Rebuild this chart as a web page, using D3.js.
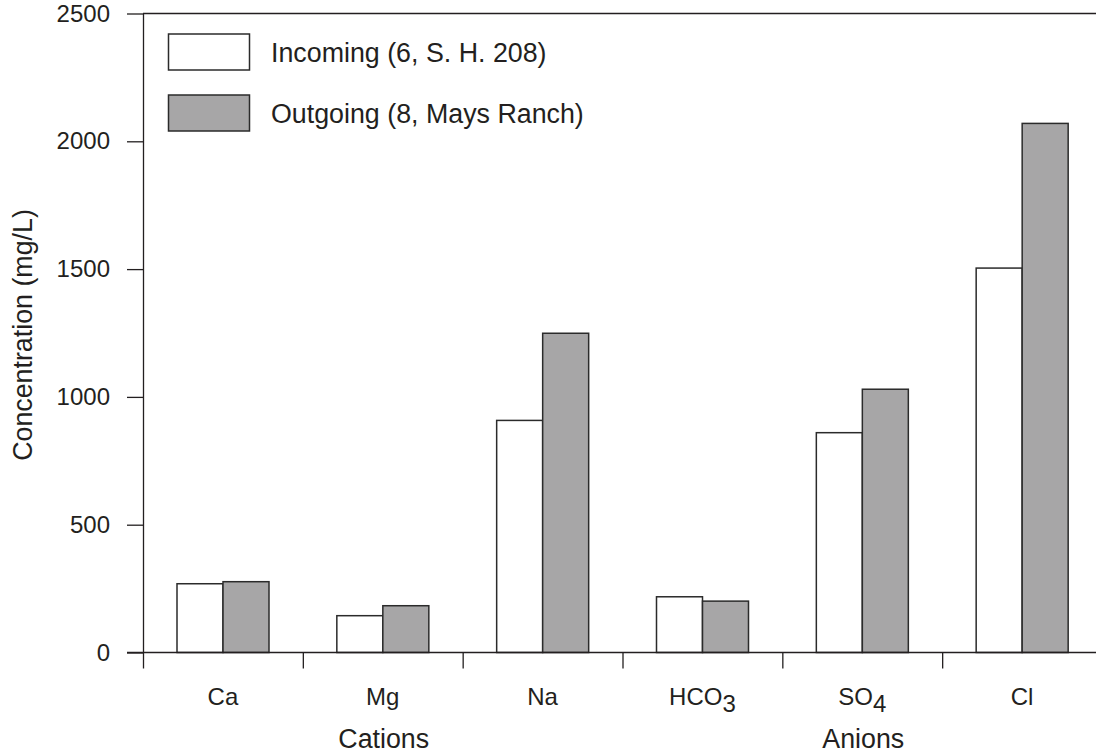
<!DOCTYPE html>
<html>
<head>
<meta charset="utf-8">
<script src="https://cdn.jsdelivr.net/npm/d3@7"></script>
<style>
  html, body { margin: 0; padding: 0; background: #fff; }
  svg { display: block; font-family: "Liberation Sans", Arial, Helvetica, sans-serif; }
</style>
</head>
<body>
<svg id="chart" width="1096" height="756"></svg>
<script>
const categories = ["Ca", "Mg", "Na", "HCO3", "SO4", "Cl"];
const categoryLabels = [["Ca", ""], ["Mg", ""], ["Na", ""], ["HCO", "3"], ["SO", "4"], ["Cl", ""]];
const seriesNames = ["Incoming (6, S. H. 208)", "Outgoing (8, Mays Ranch)"];
const incoming = [269, 144, 908, 218, 860, 1504];
const outgoing = [277, 183, 1249, 201, 1030, 2070];
const yTicks = [0, 500, 1000, 1500, 2000, 2500];
const groupLabels = ["Cations", "Anions"];
const groupCenters = ["Mg", "SO4"];
const seriesFill = ["#ffffff", "#a7a6a7"];

(function () {
const svg = d3.select("#chart");
const pLeft = 143, pRight = 1102, pTop = 13.5, pBottom = 652.5, W = 1096;
const ink = "#231f20";
const tickFont = 24, titleFont = 26.8;

const y = d3.scaleLinear().domain([0, 2500]).range([pBottom, pTop]);
const x = d3.scaleBand().domain(categories).range([pLeft, pRight]).padding(0);
const xs = d3.scaleBand().domain([0, 1]).range([34, 126]).padding(0);

// bars
const data = categories.map((c, i) => ({ c, vals: [incoming[i], outgoing[i]] }));
const g = svg.append("g");
data.forEach(d => {
  d.vals.forEach((v, s) => {
    g.append("rect")
      .attr("x", x(d.c) + xs(s))
      .attr("y", y(v))
      .attr("width", xs.bandwidth())
      .attr("height", y(0) - y(v))
      .attr("fill", seriesFill[s])
      .attr("stroke", "#2b2b2b")
      .attr("stroke-width", 1.5);
  });
});

// y axis
const yAxis = d3.axisLeft(y).tickValues(yTicks).tickSize(16).tickSizeOuter(0).tickPadding(17).tickFormat(d3.format("d"));
const yg = svg.append("g").attr("transform", `translate(${pLeft},0)`).call(yAxis);
yg.attr("font-family", null).attr("font-size", null);
yg.selectAll("path").attr("stroke", ink).attr("stroke-width", 1.3);
yg.selectAll("line").attr("stroke", ink).attr("stroke-width", 1.3);
yg.selectAll("text").attr("font-size", tickFont).attr("fill", ink);

// x axis with ticks at band boundaries
const xb = d3.scaleLinear().domain([0, categories.length]).range([pLeft, pRight]);
const xAxis = d3.axisBottom(xb).tickValues(d3.range(0, categories.length + 1)).tickSize(16).tickSizeOuter(0).tickFormat("");
const xg = svg.append("g").attr("transform", `translate(0,${pBottom})`).call(xAxis);
xg.select("path").remove();
xg.selectAll("line").attr("stroke", ink).attr("stroke-width", 1.3);
svg.append("line").attr("x1", pLeft - 16).attr("x2", W).attr("y1", pBottom).attr("y2", pBottom)
  .attr("stroke", ink).attr("stroke-width", 1.3);
// top frame line
svg.append("line").attr("x1", pLeft).attr("x2", W).attr("y1", pTop).attr("y2", pTop)
  .attr("stroke", ink).attr("stroke-width", 1.3);

// category labels
categories.forEach((c, i) => {
  const t = svg.append("text")
    .attr("x", x(c) + x.bandwidth() / 2)
    .attr("y", 705)
    .attr("text-anchor", "middle")
    .attr("font-size", tickFont)
    .attr("fill", ink);
  t.append("tspan").text(categoryLabels[i][0]);
  if (categoryLabels[i][1]) {
    t.append("tspan").attr("dy", 7).text(categoryLabels[i][1]);
  }
});

// group labels
groupLabels.forEach((lab, i) => {
  svg.append("text")
    .attr("x", x(groupCenters[i]) + x.bandwidth() / 2 + 1)
    .attr("y", 748)
    .attr("text-anchor", "middle")
    .attr("font-size", titleFont)
    .attr("fill", ink)
    .text(lab);
});

// y title
svg.append("text")
  .attr("transform", `translate(31.5,${(pTop + pBottom) / 2 + 2}) rotate(-90)`)
  .attr("text-anchor", "middle")
  .attr("font-size", titleFont)
  .attr("fill", ink)
  .text("Concentration (mg/L)");

// legend
const legY = [34, 95];
seriesNames.forEach((name, s) => {
  svg.append("rect")
    .attr("x", 168.5).attr("y", legY[s])
    .attr("width", 81).attr("height", 36)
    .attr("fill", seriesFill[s])
    .attr("stroke", "#2b2b2b").attr("stroke-width", 1.5);
  svg.append("text")
    .attr("x", 271).attr("y", legY[s] + 18 + 9.5)
    .attr("font-size", titleFont)
    .attr("fill", ink)
    .text(name);
});
})();
</script>
</body>
</html>
